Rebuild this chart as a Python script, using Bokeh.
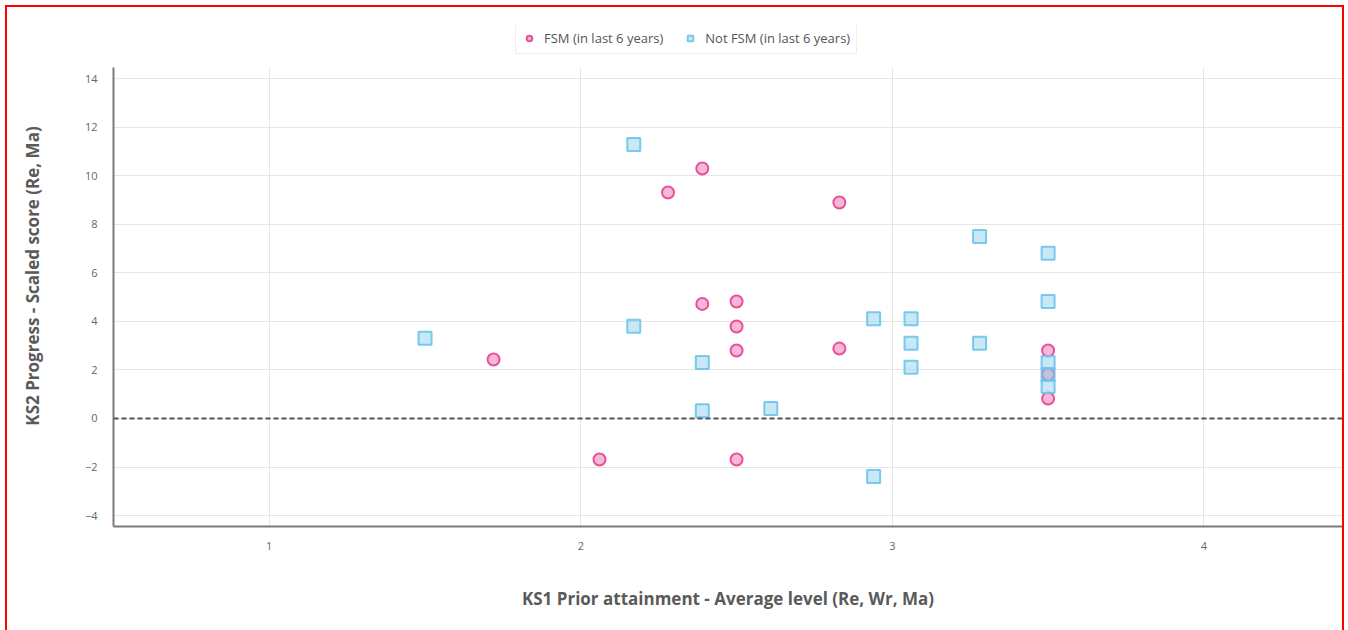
from bokeh.plotting import figure
from bokeh.models import Range1d, Span, Legend, LegendItem, FixedTicker
from bokeh.embed import file_html
from bokeh.resources import INLINE

# Data
fsm_x = [1.72, 2.06, 2.28, 2.39, 2.39, 2.5, 2.5, 2.5, 2.5, 2.83, 2.83, 3.5, 3.5, 3.5]
fsm_y = [2.43, -1.69, 9.31, 10.3, 4.72, 4.82, 3.79, 2.80, -1.69, 8.9, 2.88, 2.80, 1.81, 0.82]

not_fsm_x = [1.5, 2.17, 2.17, 2.39, 2.39, 2.61, 2.94, 2.94, 3.06, 3.06, 3.06, 3.28, 3.28, 3.5, 3.5, 3.5, 3.5, 3.5]
not_fsm_y = [3.31, 11.29, 3.80, 2.31, 0.32, 0.41, 4.11, -2.39, 4.11, 3.10, 2.11, 7.5, 3.10, 6.81, 4.82, 2.31, 1.81, 1.32]

x_ticks = [1, 2, 3, 4]
y_ticks = [-4, -2, 0, 2, 4, 6, 8, 10, 12, 14]

series_labels = ["FSM (in last 6 years)", "Not FSM (in last 6 years)"]
x_title = "KS1 Prior attainment - Average level (Re, Wr, Ma)"
y_title = "KS2 Progress - Scaled score (Re, Ma)"

Y_MIN, Y_MAX = -4.45, 14.48   # visible axis extent
Y_TOP = 16.19                 # frame extends above the axis to hold the legend

p = figure(
    width=1335, height=623,
    x_range=Range1d(0.5, 4.445), y_range=Range1d(Y_MIN, Y_TOP),
    output_backend="svg", toolbar_location=None,
    min_border_left=106, min_border_right=0, min_border_top=18, min_border_bottom=104,
)
p.margin = (7, 0, 0, 7)
p.styles = {"outline": "2px solid #ff0000"}
p.outline_line_color = None
p.background_fill_color = "white"
p.border_fill_color = "white"

p.ygrid.grid_line_color = "#e6e6e6"
p.ygrid.grid_line_width = 1
grid_x = p.xgrid[0]
if "cross_bounds" in grid_x.properties():
    grid_x.cross_bounds = (Y_MIN, Y_MAX)
    grid_x.grid_line_color = "#e6e6e6"
    grid_x.grid_line_width = 1
else:
    grid_x.grid_line_color = None
    p.segment(x0=x_ticks, y0=[Y_MIN] * len(x_ticks), x1=x_ticks, y1=[Y_MAX] * len(x_ticks),
              line_color="#e6e6e6", line_width=1)

for ax in (p.xaxis[0], p.yaxis[0]):
    ax.axis_line_color = "#7a7a7a"
    ax.axis_line_width = 2
    ax.major_tick_line_color = None
    ax.minor_tick_line_color = None
    ax.major_label_text_color = "#666666"
    ax.major_label_text_font = "Open Sans"
    ax.major_label_text_font_size = "11px"
    ax.axis_label_text_color = "#5a5a5a"
    ax.axis_label_text_font = "Open Sans"
    ax.axis_label_text_font_size = "17px"
    ax.axis_label_text_font_style = "bold"

p.yaxis.bounds = (Y_MIN, Y_MAX)
p.xaxis.ticker = FixedTicker(ticks=x_ticks)
p.yaxis.ticker = FixedTicker(ticks=y_ticks)
p.xaxis.axis_label = x_title
p.yaxis.axis_label = y_title
p.xaxis.major_label_standoff = 9
p.yaxis.major_label_standoff = 10
p.xaxis.axis_label_standoff = 34
p.yaxis.axis_label_standoff = 38

zero = Span(location=0, dimension="width", line_color="#555555", line_width=2, line_dash="5 3")
p.add_layout(zero)

r_fsm = p.scatter(fsm_x, fsm_y, marker="circle", size=12,
                  fill_color="#f07cb8", fill_alpha=0.55,
                  line_color="#e8509a", line_width=2)
r_not = p.scatter(not_fsm_x, not_fsm_y, marker="square", size=13,
                  fill_color="#86cdee", fill_alpha=0.45,
                  line_color="#6cc4ea", line_width=2, line_alpha=0.9)

legend = Legend(
    items=[LegendItem(label=series_labels[0], renderers=[r_fsm]),
           LegendItem(label=series_labels[1], renderers=[r_not])],
    orientation="horizontal",
    location=(402, 472),
    label_text_font="Open Sans", label_text_font_size="13px", label_text_color="#555555",
    glyph_width=14, glyph_height=16,
    spacing=20, padding=6, margin=0,
    label_standoff=8,
    border_line_color="#dddddd", border_line_width=1,
    background_fill_color="white",
)
p.add_layout(legend, "center")

open("out.html", "w").write(file_html(p, INLINE))
